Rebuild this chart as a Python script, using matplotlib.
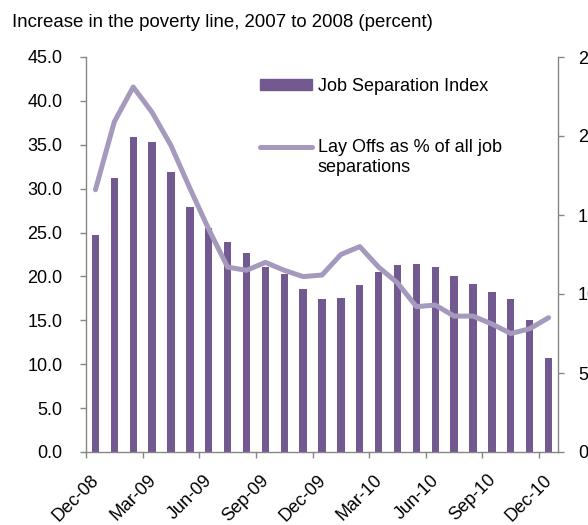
import numpy as np
import matplotlib
matplotlib.use("Agg")
import matplotlib.pyplot as plt
from matplotlib.patches import Patch
from matplotlib.lines import Line2D
from matplotlib.legend_handler import HandlerLine2D

plt.rcParams['font.family'] = ['Liberation Sans', 'DejaVu Sans']
plt.rcParams['font.size'] = 13

# monthly data, Dec-08 .. Dec-10
months = ["Dec-08", "Jan-09", "Feb-09", "Mar-09", "Apr-09", "May-09", "Jun-09",
          "Jul-09", "Aug-09", "Sep-09", "Oct-09", "Nov-09", "Dec-09", "Jan-10",
          "Feb-10", "Mar-10", "Apr-10", "May-10", "Jun-10", "Jul-10", "Aug-10",
          "Sep-10", "Oct-10", "Nov-10", "Dec-10"]
job_sep_index = [24.7, 31.2, 35.9, 35.3, 31.9, 27.9, 25.5, 23.9, 22.7, 21.1,
                 20.3, 18.6, 17.4, 17.5, 19.0, 20.5, 21.3, 21.4, 21.1, 20.1,
                 19.1, 18.2, 17.4, 15.0, 10.7]
layoffs_pct = [16.6, 20.9, 23.1, 21.5, 19.4, 16.7, 14.1, 11.7, 11.5, 12.0,
               11.5, 11.1, 11.2, 12.5, 13.0, 11.7, 10.7, 9.2, 9.3, 8.6,
               8.6, 8.1, 7.5, 7.8, 8.5]
tick_labels = ["Dec-08", "Mar-09", "Jun-09", "Sep-09", "Dec-09",
               "Mar-10", "Jun-10", "Sep-10", "Dec-10"]

bar_color = '#72598F'
line_color = '#A599BE'
axis_color = '#868686'


class FirstLineHandler(HandlerLine2D):
    # keep the legend line level with the first line of a two-line label
    def create_artists(self, legend, orig_handle, xdescent, ydescent,
                       width, height, fontsize, trans):
        artists = super().create_artists(legend, orig_handle, xdescent, ydescent,
                                         width, height, fontsize, trans)
        for a in artists:
            a.set_ydata(np.asarray(a.get_ydata()) + 0.6 * fontsize)
        return artists


fig = plt.figure(figsize=(5.88, 5.25), dpi=100)
ax = fig.add_axes([86 / 588, 73 / 525, 472 / 588, 395 / 525])
ax2 = ax.twinx()

x = np.arange(len(months)) + 0.5
ax.bar(x, job_sep_index, width=0.39, color=bar_color, zorder=2)
ax2.plot(x, layoffs_pct, color=line_color, lw=3.6,
         solid_capstyle='round', solid_joinstyle='round')

ax.set_xlim(0, len(months))
ax.set_ylim(0, 45)
ax2.set_ylim(0, 25)
ax.set_yticks(np.arange(0, 46, 5))
ax.set_yticklabels([f"{v:.1f}" for v in np.arange(0, 46, 5)])
ax2.set_yticks(np.arange(0, 26, 5))
ax2.set_yticklabels([str(v) for v in range(0, 26, 5)])

# tick marks at quarter boundaries, labels nudged right as minor ticks
ax.set_xticks(np.arange(0, len(months), 3))
ax.set_xticklabels([])
ax.set_xticks(np.arange(0, len(months), 3) + 0.88, minor=True)
ax.set_xticklabels(tick_labels, minor=True, rotation=45, ha='right')
ax.tick_params(axis='x', which='minor', length=0, pad=14)
ax.tick_params(axis='x', which='major', length=4, width=1, color=axis_color)
ax.tick_params(axis='y', length=4, width=1, color=axis_color, pad=13)
ax2.tick_params(axis='y', length=4, width=1, color=axis_color, pad=10.4)

for a in (ax, ax2):
    a.spines['top'].set_visible(False)
    for s in ('left', 'right', 'bottom'):
        a.spines[s].set_color(axis_color)
        a.spines[s].set_linewidth(1.0)
ax.spines['right'].set_visible(False)
ax2.spines['left'].set_visible(False)
ax2.spines['bottom'].set_visible(False)

handles = [Patch(color=bar_color),
           Line2D([], [], color=line_color, lw=3.6, solid_capstyle='round')]
labels = ["Job Separation Index", "Lay Offs as % of all job\nseparations"]
leg = ax2.legend(handles, labels, loc='upper left',
                 bbox_to_anchor=(260 / 588, 1 - 78 / 525),
                 bbox_transform=fig.transFigure, frameon=False,
                 borderpad=0, borderaxespad=0, handlelength=2.9,
                 handleheight=0.55, handletextpad=0.3, labelspacing=2.45,
                 handler_map={Line2D: FirstLineHandler()})
leg.get_texts()[1].set_linespacing(1.2)

fig.text(12 / 588, 1 - 26.7 / 525,
         "Increase in the poverty line, 2007 to 2008 (percent)",
         va='baseline', ha='left', fontsize=13.4)

fig.savefig("out.png", dpi=100)
